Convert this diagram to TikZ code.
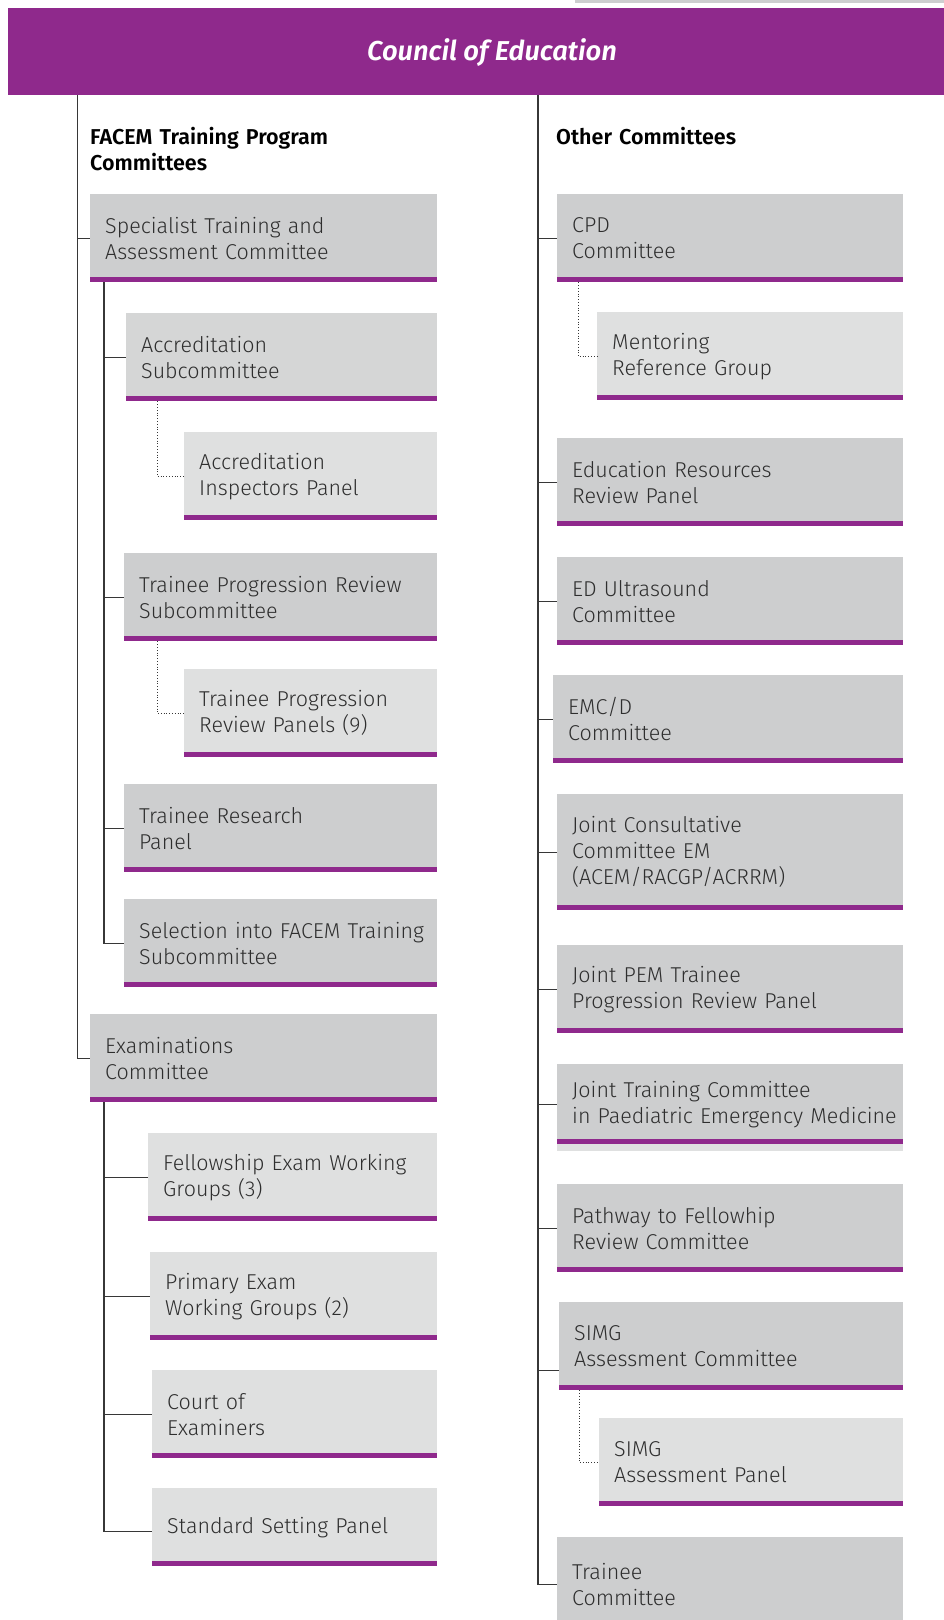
\documentclass[tikz,border=0pt]{standalone}
\usepackage{fontspec}
\setmainfont{Fira Sans}[UprightFont={* Light},BoldFont={* SemiBold},ItalicFont={* Light Italic},BoldItalicFont={* SemiBold Italic}]
\usetikzlibrary{positioning}

\definecolor{cepurple}{RGB}{143,41,140}
\definecolor{darkbox}{RGB}{205,206,207}
\definecolor{midbox}{RGB}{213,214,214}
\definecolor{lightbox}{RGB}{223,224,224}
\definecolor{linegray}{RGB}{55,55,55}

\tikzset{
  orgbox/.style={rectangle, anchor=north west, fill=darkbox, minimum width=#1,
    text width=#1-30, minimum height=88, inner xsep=15, inner ysep=0, align=left,
    font=\fontsize{21.5}{26}\selectfont, text=black!82,
    path picture={\fill[cepurple] (path picture bounding box.south west)
      rectangle ([yshift=5pt]path picture bounding box.south east);}},
  subbox/.style={orgbox=#1, fill=lightbox},
  heading/.style={anchor=north west, inner sep=0, text width=300, align=left,
    font=\fontsize{21.5}{26}\selectfont\bfseries},
  trunk/.style={draw=linegray, line width=1.2pt},
  dotlink/.style={draw=linegray, dotted, line width=0.8pt},
}

\begin{document}
\begin{tikzpicture}[x=1pt, y=-1pt]
\useasboundingbox (0,0) rectangle (944,1620);
% banner
\fill[darkbox] (575,0) rectangle (944,2.5);
\fill[cepurple] (8,8) rectangle (944,95);
\node[font=\fontsize{27.3}{32}\selectfont\bfseries\itshape, text=white] (council) at (492,53) {Council of Education};
\coordinate (ltrunk) at (77.5,95);
\coordinate (rtrunk) at (538,95);

% headings
\node[heading] (facem) at (90,127) {FACEM Training Program\\Committees};
\node[heading] (other) at (556,127) {Other Committees};

% FACEM training program committees
\node[orgbox=347] (stac) at (90,194) {Specialist Training and\\Assessment Committee};
\node[orgbox=311, fill=midbox] (accsub) at (126,313) {Accreditation\\Subcommittee};
\node[subbox=253] (accinsp) at (184,432) {Accreditation\\Inspectors Panel};
\node[orgbox=313] (tprsub) at (124,553) {\mbox{Trainee Progression Review}\\Subcommittee};
\node[subbox=253] (tprpan) at (184,669) {Trainee Progression\\Review Panels (9)};
\node[orgbox=313] (trp) at (124,784) {Trainee Research\\Panel};
\node[orgbox=313] (sel) at (124,899) {\mbox{Selection into FACEM Training}\\Subcommittee};
\node[orgbox=347] (exam) at (90,1014) {Examinations\\Committee};
\node[subbox=289] (few) at (148,1133) {\mbox{Fellowship Exam Working}\\Groups (3)};
\node[subbox=287] (pewg) at (150,1252) {Primary Exam\\Working Groups (2)};
\node[subbox=285] (coe) at (152,1370) {Court of\\Examiners};
\node[subbox=285, minimum height=78] (ssp) at (152,1488) {Standard Setting Panel};

% other committees
\node[orgbox=346] (cpd) at (557,194) {CPD\\Committee};
\node[subbox=306] (mrg) at (597,312) {Mentoring\\Reference Group};
\node[orgbox=346] (errp) at (557,438) {Education Resources\\Review Panel};
\node[orgbox=346] (edus) at (557,557) {ED Ultrasound\\Committee};
\node[orgbox=350] (emcd) at (553,675) {EMC/D\\Committee};
\node[orgbox=346, minimum height=116] (jcc) at (557,794) {Joint Consultative\\Committee EM\\(ACEM/RACGP/ACRRM)};
\node[orgbox=346] (jpem) at (557,945) {Joint PEM Trainee\\Progression Review Panel};
\node[orgbox=346, minimum height=80] (jtc) at (557,1064) {Joint Training Committee\\\mbox{in Paediatric Emergency Medicine}};
\fill[lightbox] (jtc.south west) rectangle ([yshift=-7pt]jtc.south east);
\node[orgbox=346] (ptf) at (557,1184) {Pathway to Fellowhip\\Review Committee};
\node[orgbox=344] (simgc) at (559,1302) {SIMG\\Assessment Committee};
\node[subbox=304] (simgp) at (599,1418) {SIMG\\Assessment Panel};
\node[orgbox=346, minimum height=94] (trc) at (557,1537) {Trainee\\Committee};

% connectors
\draw[trunk] (ltrunk) |- (stac.west);
\draw[trunk] (ltrunk) |- (exam.west);
\foreach \n in {accsub,tprsub,trp,sel}
  \draw[trunk] ([xshift=14pt]stac.south west) |- (\n.west);
\foreach \n in {few,pewg,coe}
  \draw[trunk] ([xshift=14pt]exam.south west) |- (\n.west);
\draw[trunk] ([xshift=14pt]exam.south west) |- ([yshift=-4pt]ssp.west);
\draw[dotlink] ([xshift=31pt]accsub.south west) |- (accinsp.west);
\draw[dotlink] ([xshift=33pt]tprsub.south west) |- (tprpan.west);

\foreach \n in {cpd,errp,edus,emcd,jcc,jpem,jtc,ptf,trc}
  \draw[trunk] (rtrunk) |- (\n.west);
\draw[trunk] (rtrunk) |- ([yshift=-24pt]simgc.west);
\draw[dotlink] ([xshift=21pt]cpd.south west) |- (mrg.west);
\draw[dotlink] ([xshift=20pt]simgc.south west) |- (simgp.west);
\end{tikzpicture}
\end{document}
